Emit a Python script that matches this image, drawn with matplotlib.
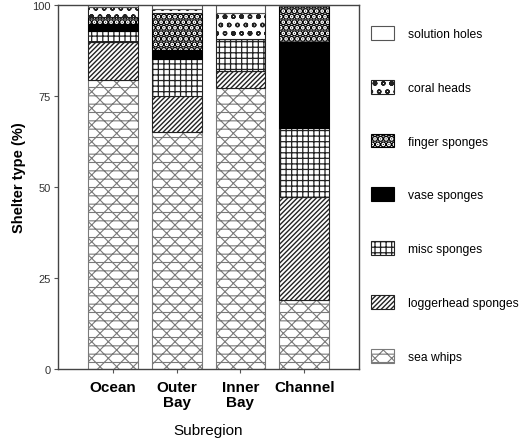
import matplotlib
matplotlib.use("Agg")
import matplotlib.pyplot as plt
import numpy as np

plt.rcParams['font.family'] = ['Liberation Sans', 'DejaVu Sans']
plt.rcParams['hatch.linewidth'] = 0.8

categories = ["Ocean", "Outer\nBay", "Inner\nBay", "Channel"]
sea_whips = [79.5, 65.2, 77.1, 19.1]
loggerhead_sponges = [10.5, 9.7, 4.7, 28.1]
misc_sponges = [2.8, 10.2, 8.8, 19.1]
vase_sponges = [2.0, 2.7, 0.0, 23.5]
finger_sponges = [1.9, 10.1, 0.0, 9.9]
coral_heads = [2.7, 1.0, 7.2, 0.0]
solution_holes = [0.6, 1.1, 2.2, 0.3]

series = [
    ("sea whips", sea_whips, "white", "#7a7a7a", "xx--", 0.8),
    ("loggerhead sponges", loggerhead_sponges, "white", "#222222", "///////", 1.0),
    ("misc sponges", misc_sponges, "white", "#222222", "+++", 0.9),
    ("vase sponges", vase_sponges, "black", "black", None, 0.8),
    ("finger sponges", finger_sponges, "white", "black", "...", 3.5),
    ("coral heads", coral_heads, "white", "#222222", "oo.", 1.0),
    ("solution holes", solution_holes, "white", "#555555", None, 0.8),
]

fig = plt.figure(figsize=(5.2, 4.39), dpi=100)
ax = fig.add_axes([0.1115, 0.157, 0.579, 0.829])

x = np.arange(len(categories))
bottom = np.zeros(len(categories))
handles = []
for name, vals, fc, ec, hatch, hlw in series:
    vals = np.array(vals)
    with plt.rc_context({'hatch.linewidth': hlw}):
        b = ax.bar(x, vals, width=0.78, bottom=bottom, color=fc, edgecolor=ec,
                   hatch=hatch, linewidth=0.8, label=name)
    bottom += vals
    handles.append(b)

ax.set_xlim(-0.86, 3.86)
ax.set_ylim(0, 100)
ax.set_yticks([0, 25, 50, 75, 100])
ax.set_yticklabels(["0", "25", "50", "75", "100"], fontsize=8, color="#333333")
ax.set_xticks(x)
ax.set_xticklabels(categories, fontsize=11, fontweight="bold", linespacing=1.1)
ax.tick_params(axis='both', length=3, width=0.8, color="#555555")
ax.tick_params(axis='x', pad=5)
ax.tick_params(axis='y', pad=2)
for s in ax.spines.values():
    s.set_color("#444444")
    s.set_linewidth(1.0)
ax.set_ylabel("Shelter type (%)", fontsize=10.5, fontweight="bold")
ax.yaxis.set_label_coords(-0.105, 0.53)
ax.set_xlabel("Subregion", fontsize=11, labelpad=10)

leg = fig.legend(handles=handles[::-1], labels=[s[0] for s in series][::-1],
                 loc="upper left", bbox_to_anchor=(0.705, 0.950), frameon=False,
                 fontsize=8.7, handlelength=1.85, handleheight=1.4,
                 labelspacing=3.3, handletextpad=1.2, borderaxespad=0)
for h, s in zip(leg.legend_handles, series[::-1]):
    if hasattr(h, "set_hatch_linewidth"):
        h.set_hatch_linewidth(s[5])

fig.savefig("out.png", dpi=100)
